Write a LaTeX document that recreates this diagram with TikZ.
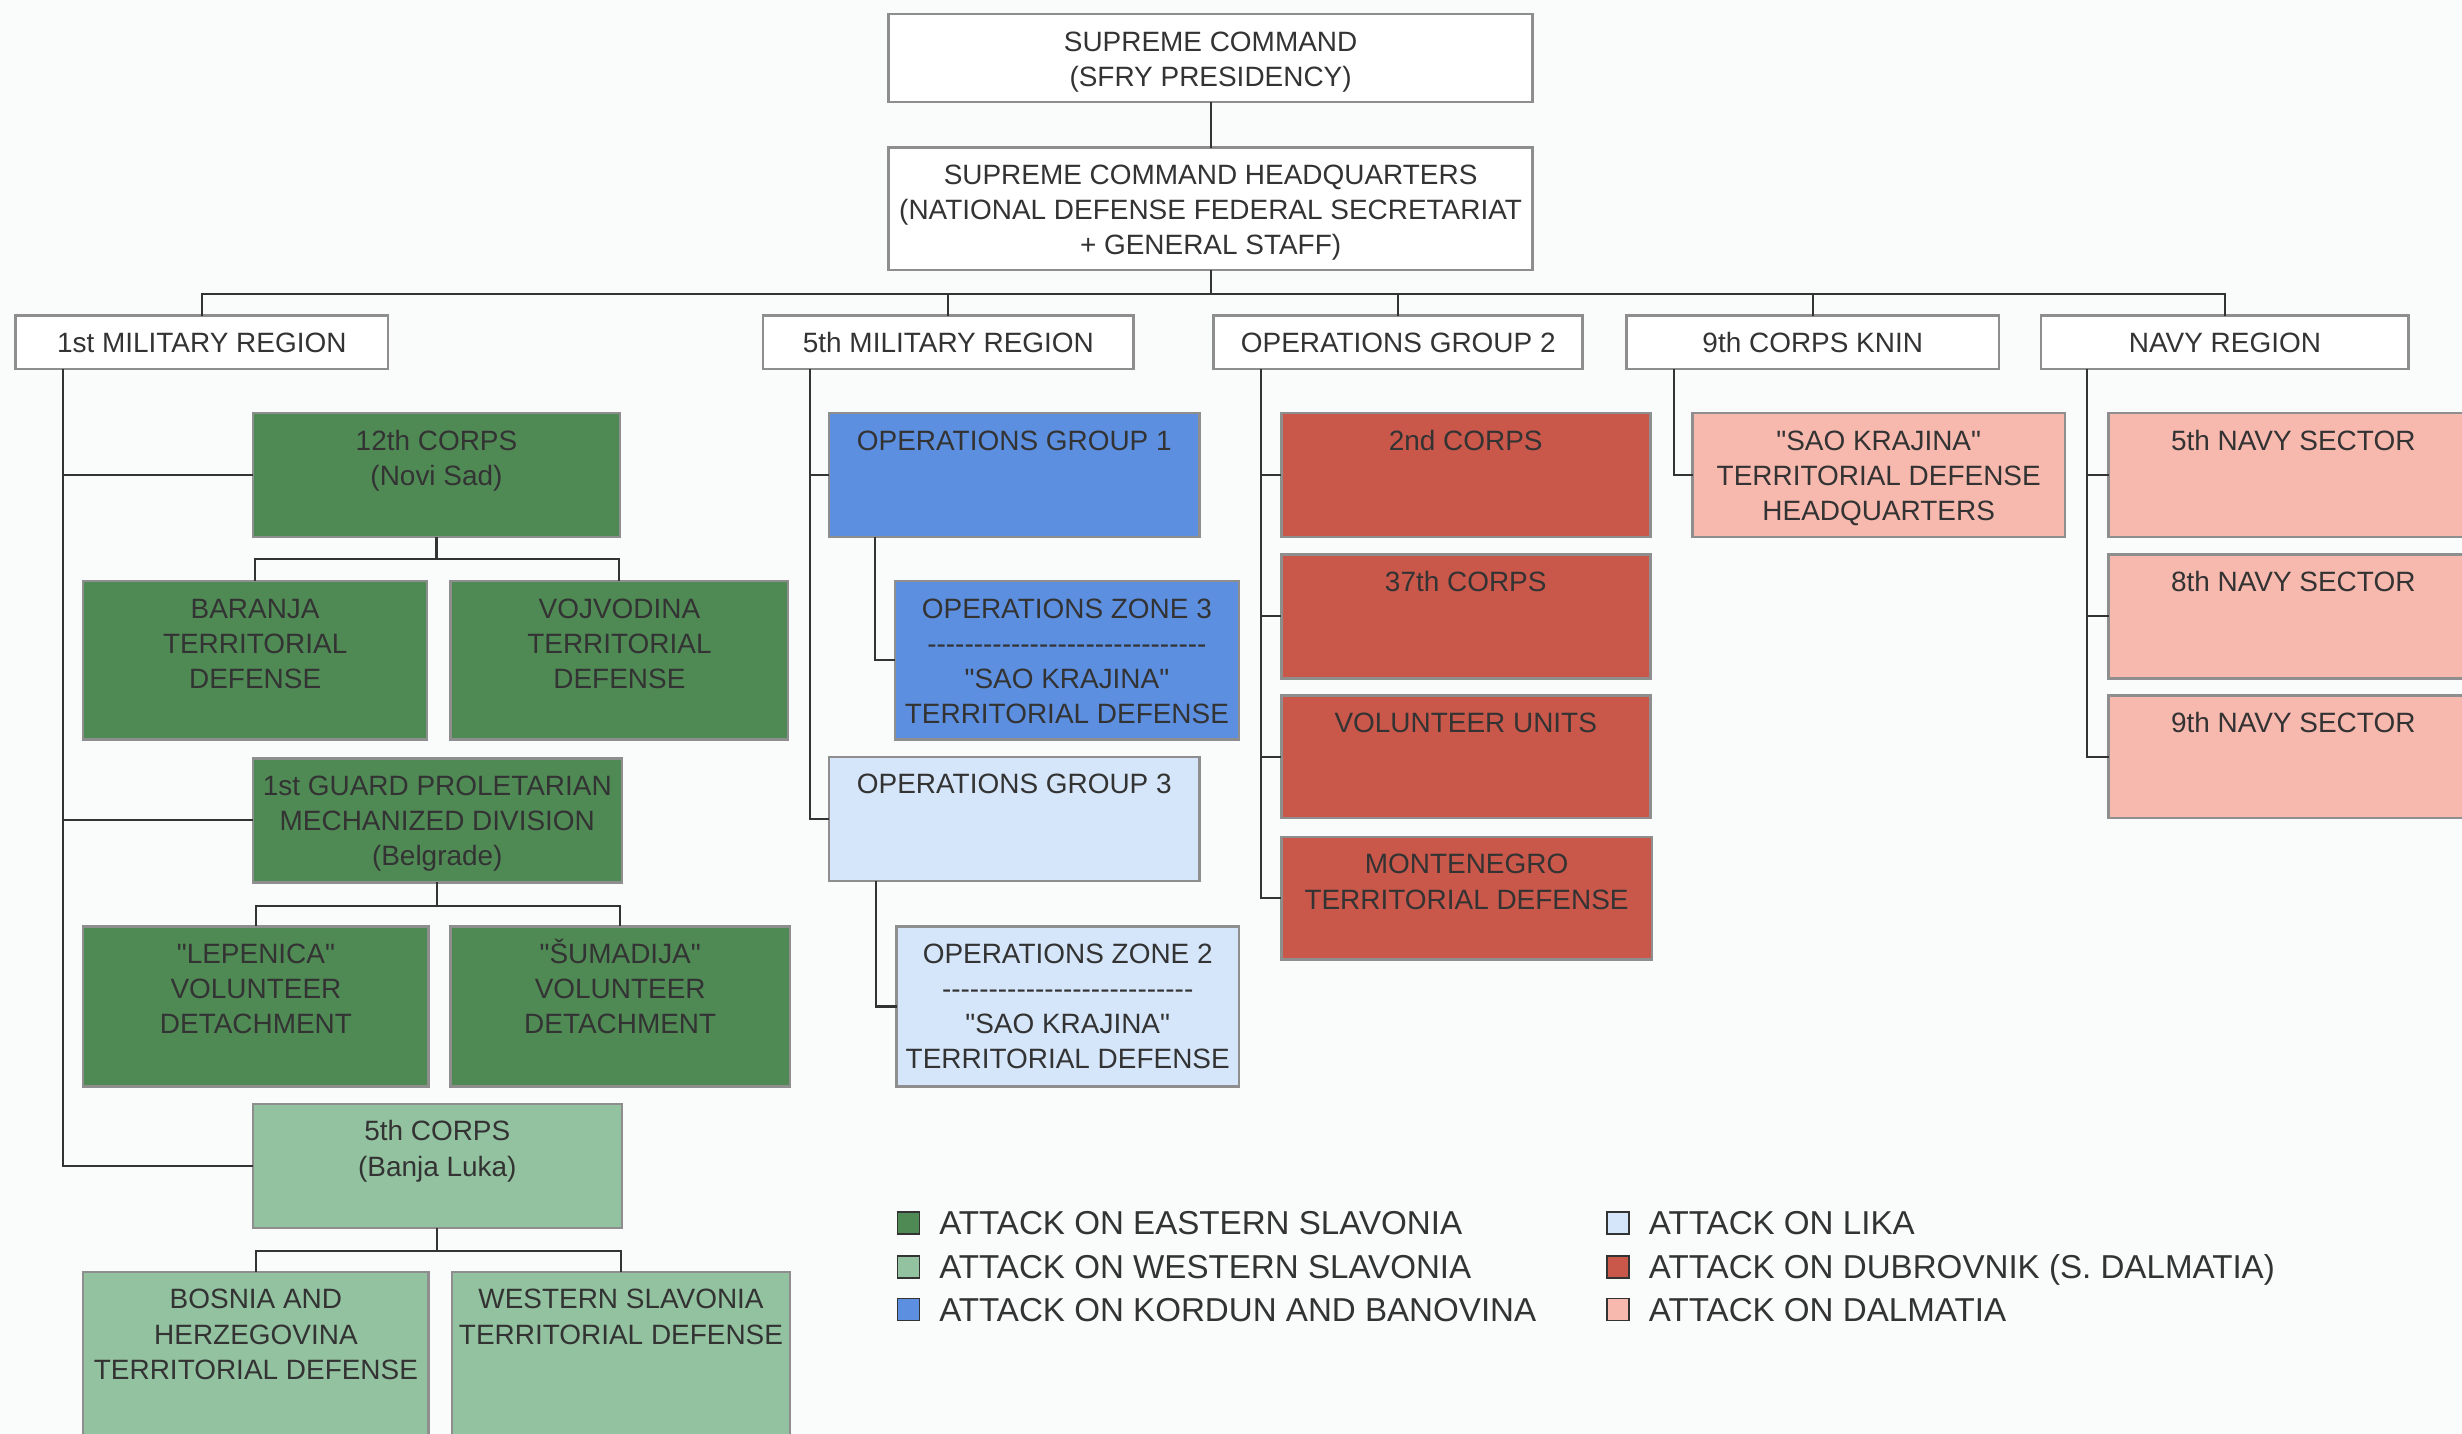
\documentclass[tikz,border=0pt]{standalone}
\usepackage{fontspec}
\setmainfont{Liberation Sans}[Ligatures=TeXOff]
\usetikzlibrary{calc}
\definecolor{bg}{HTML}{FAFCFC}
\definecolor{boxgray}{HTML}{8E8E8E}
\definecolor{lk}{HTML}{333333}
\definecolor{txt}{HTML}{333333}
\definecolor{dkgreen}{HTML}{4F8A55}
\definecolor{ltgreen}{HTML}{93C2A0}
\definecolor{blu}{HTML}{5D8FE0}
\definecolor{ltblue}{HTML}{D5E6FA}
\definecolor{redd}{HTML}{C9574A}
\definecolor{pink}{HTML}{F7B8AE}
\newcommand\hh{-\kern0pt}
\newcommand\hhx{\hh\hh\hh\hh\hh}
\newcommand\bx[7]{%
  \node[box,#6,minimum width={#4-#2},minimum height={#5-#3},anchor=north west] (#1) at (#2,#3) {};
  \node[lbl,anchor=north] (#1t) at ([yshift=-7.4pt]#1.north) {\rule{0pt}{16pt}#7};}
\begin{document}
\begin{tikzpicture}[x=1pt,y=-1pt,
  box/.style={draw=boxgray,line width=1.6pt,inner sep=0pt,outer sep=0pt},
  lbl/.style={inner sep=0pt,align=center,text=txt,font=\fontsize{17.8}{22.4}\selectfont},
  conn/.style={draw=lk,line width=1.3pt},
  sq/.style={draw=lk,line width=1pt,minimum size=14pt,inner sep=0pt},
  leg/.style={inner sep=0pt,anchor=base west,text=txt,font=\fontsize{21.1}{25}\selectfont}]
\useasboundingbox (0,0) rectangle (1568,913);
\fill[bg] (0,0) rectangle (1568,913);
% top
\bx{sc}{566}{9}{976}{65}{fill=white}{SUPREME COMMAND\\(SFRY PRESIDENCY)}
\bx{schq}{566}{94}{976}{172}{fill=white}{SUPREME COMMAND HEADQUARTERS\\(NATIONAL DEFENSE FEDERAL SECRETARIAT\\+ GENERAL STAFF)}
% second row
\bx{mr1}{10}{201}{247}{235}{fill=white}{1st MILITARY REGION}
\bx{mr5}{486}{201}{722}{235}{fill=white}{5th MILITARY REGION}
\bx{og2}{773}{201}{1008}{235}{fill=white}{OPERATIONS GROUP 2}
\bx{k9}{1036}{201}{1273}{235}{fill=white}{9th CORPS KNIN}
\bx{navy}{1300}{201}{1534}{235}{fill=white}{NAVY REGION}
% 1st military region
\bx{c12}{161}{263}{395}{342}{fill=dkgreen}{12th CORPS\\(Novi Sad)}
\bx{bar}{53}{370}{272}{471}{fill=dkgreen}{BARANJA\\TERRITORIAL\\DEFENSE}
\bx{voj}{287}{370}{502}{471}{fill=dkgreen}{VOJVODINA\\TERRITORIAL\\DEFENSE}
\bx{g1}{161}{483}{396}{562}{fill=dkgreen}{1st GUARD PROLETARIAN\\MECHANIZED DIVISION\\(Belgrade)}
\bx{lep}{53}{590}{273}{692}{fill=dkgreen}{"LEPENICA"\\VOLUNTEER\\DETACHMENT}
\bx{sum}{287}{590}{503}{692}{fill=dkgreen}{"ŠUMADIJA"\\VOLUNTEER\\DETACHMENT}
\bx{c5}{161}{703}{396}{782}{fill=ltgreen}{5th CORPS\\(Banja Luka)}
\bx{bos}{53}{810}{273}{922}{fill=ltgreen}{BOSNIA AND\\HERZEGOVINA\\TERRITORIAL DEFENSE}
\bx{ws}{288}{810}{503}{922}{fill=ltgreen}{WESTERN SLAVONIA\\TERRITORIAL DEFENSE}
% 5th military region
\bx{og1}{528}{263}{764}{342}{fill=blu}{OPERATIONS GROUP 1}
\bx{oz3}{570}{370}{789}{471}{fill=blu}{OPERATIONS ZONE 3\\\hhx\hhx\hhx\hhx\hhx\hhx\\"SAO KRAJINA"\\TERRITORIAL DEFENSE}
\bx{og3}{528}{482}{764}{561}{fill=ltblue}{OPERATIONS GROUP 3}
\bx{oz2}{571}{590}{789}{692}{fill=ltblue}{OPERATIONS ZONE 2\\\hhx\hhx\hhx\hhx\hhx\hh\hh\\"SAO KRAJINA"\\TERRITORIAL DEFENSE}
% operations group 2
\bx{c2}{816}{263}{1051}{342}{fill=redd}{2nd CORPS}
\bx{c37}{816}{353}{1051}{432}{fill=redd}{37th CORPS}
\bx{vu}{816}{443}{1051}{521}{fill=redd}{VOLUNTEER UNITS}
\bx{mon}{816}{533}{1052}{611}{fill=redd}{MONTENEGRO\\TERRITORIAL DEFENSE}
% 9th corps
\bx{sao}{1078}{263}{1315}{342}{fill=pink}{"SAO KRAJINA"\\TERRITORIAL DEFENSE\\HEADQUARTERS}
% navy
\bx{n5}{1343}{263}{1578}{342}{fill=pink}{5th NAVY SECTOR}
\bx{n8}{1343}{353}{1578}{432}{fill=pink}{8th NAVY SECTOR}
\bx{n9}{1343}{443}{1578}{521}{fill=pink}{9th NAVY SECTOR}
% connectors
\coordinate (bus) at (771,187);
\draw[conn] (sc.south) -- (schq.north);
\draw[conn] (schq.south) -- (bus);
\draw[conn] (mr1.north) |- (navy.north |- bus) -- (navy.north);
\foreach \n in {mr5,og2,k9} \draw[conn] (\n.north) -- (\n.north |- bus);
% 1st MR tree
\coordinate (v1) at ([xshift=30pt]mr1.south west);
\draw[conn] (v1) |- (c12.west);
\draw[conn] (v1) |- (g1.west);
\draw[conn] (v1) |- (c5.west);
\path (c12.south) ++(0,14) coordinate (k12);
\draw[conn] (c12.south) -- (k12);
\draw[conn] (bar.north) |- (k12) -| (voj.north);
\path (g1.south) ++(0,15) coordinate (kg1);
\draw[conn] (g1.south) -- (kg1);
\draw[conn] (lep.north) |- (kg1) -| (sum.north);
\path (c5.south) ++(0,15) coordinate (kc5);
\draw[conn] (c5.south) -- (kc5);
\draw[conn] (bos.north) |- (kc5) -| (ws.north);
% 5th MR tree
\coordinate (v5) at ([xshift=30pt]mr5.south west);
\draw[conn] (v5) |- (og1.west);
\draw[conn] (v5) |- (og3.west);
\draw[conn] ([xshift=29pt]og1.south west) |- (oz3.west);
\draw[conn] ([xshift=30pt]og3.south west) |- (oz2.west);
% OG2 tree
\coordinate (vo) at ([xshift=30pt]og2.south west);
\foreach \n in {c2,c37,vu,mon} \draw[conn] (vo) |- (\n.west);
% 9th corps
\draw[conn] ([xshift=30pt]k9.south west) |- (sao.west);
% navy tree
\coordinate (vn) at ([xshift=29pt]navy.south west);
\foreach \n in {n5,n8,n9} \draw[conn] (vn) |- (\n.west);
% legend
\node[sq,fill=dkgreen] (l1) at (578.5,779) {};
\node[sq,fill=ltgreen] (l2) at (578.5,807) {};
\node[sq,fill=blu] (l3) at (578.5,834) {};
\node[sq,fill=ltblue] (l4) at (1030.5,779) {};
\node[sq,fill=redd] (l5) at (1030.5,807) {};
\node[sq,fill=pink] (l6) at (1030.5,834) {};
\node[leg] (t1) at (598,786.5) {ATTACK ON EASTERN SLAVONIA};
\node[leg] (t2) at (598,814.5) {ATTACK ON WESTERN SLAVONIA};
\node[leg] (t3) at (598,841.5) {ATTACK ON KORDUN AND BANOVINA};
\node[leg] (t4) at (1050,786.5) {ATTACK ON LIKA};
\node[leg] (t5) at (1050,814.5) {ATTACK ON DUBROVNIK (S. DALMATIA)};
\node[leg] (t6) at (1050,841.5) {ATTACK ON DALMATIA};
\end{tikzpicture}
\end{document}
